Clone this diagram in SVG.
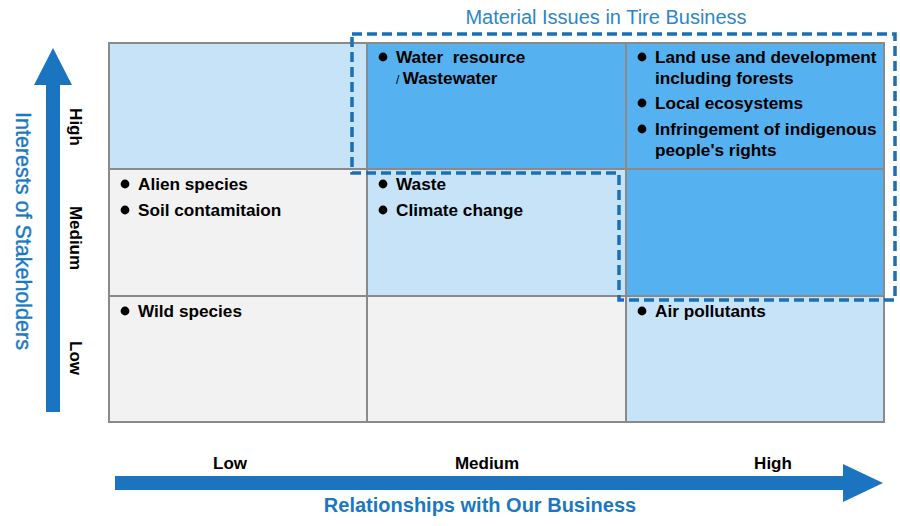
<svg xmlns="http://www.w3.org/2000/svg" width="900" height="526" viewBox="0 0 900 526">
<style>
.lb{fill:#c6e3f8}.bl{fill:#55b1ef}.gr{fill:#f2f2f2}
.grid{fill:none;stroke:#8a8a8a;stroke-width:2}
.t{font-family:"Liberation Sans",Arial,sans-serif;font-weight:bold;font-size:17.2px;fill:#000;white-space:pre}
.ax{font-family:"Liberation Sans",Arial,sans-serif;font-weight:bold;font-size:17px;fill:#000}
.blue{fill:#1a78c2}
.dot{fill:#000}
</style>
<defs><circle id="b" r="4.4"/></defs>
<rect width="900" height="526" fill="#fff"/>
<g id="cells">
<rect class="lb" x="109" y="43" width="258" height="126"/>
<rect class="bl" x="367" y="43" width="259" height="126"/>
<rect class="bl" x="626" y="43" width="258" height="126"/>
<rect class="gr" x="109" y="169" width="258" height="127"/>
<rect class="lb" x="367" y="169" width="259" height="127"/>
<rect class="bl" x="626" y="169" width="258" height="127"/>
<rect class="gr" x="109" y="296" width="258" height="126"/>
<rect class="gr" x="367" y="296" width="259" height="126"/>
<rect class="lb" x="626" y="296" width="258" height="126"/>
<path class="grid" d="M109 43H884V422H109Z M367 43V422 M626 43V422 M109 169H884 M109 296H884"/>
</g>
<g id="cell-texts">
<g class="dot">
<use href="#b" x="383" y="57"/>
<use href="#b" x="642" y="57"/>
<use href="#b" x="642" y="103"/>
<use href="#b" x="642" y="129"/>
<use href="#b" x="125" y="184"/>
<use href="#b" x="125" y="210"/>
<use href="#b" x="383" y="184"/>
<use href="#b" x="383" y="210"/>
<use href="#b" x="125" y="311"/>
<use href="#b" x="642" y="311"/>
</g>
<text class="t" x="396" y="63">Water  resource</text>
<text class="t" x="396" y="84"><tspan font-size="12" font-weight="normal">/ </tspan>Wastewater</text>
<text class="t" x="655" y="63">Land use and development</text>
<text class="t" x="655" y="84">including forests</text>
<text class="t" x="655" y="109">Local ecosystems</text>
<text class="t" x="655" y="135">Infringement of indigenous</text>
<text class="t" x="655" y="156">people's rights</text>
<text class="t" x="138" y="190">Alien species</text>
<text class="t" x="138" y="216">Soil contamitaion</text>
<text class="t" x="396" y="190">Waste</text>
<text class="t" x="396" y="216">Climate change</text>
<text class="t" x="138" y="317">Wild species</text>
<text class="t" x="655" y="317">Air pollutants</text>
</g>
<g id="material-issues">
<path d="M352 34H895V300H619V173H352Z" fill="none" stroke="#1a6fb8" stroke-width="3.5" stroke-dasharray="10 5"/>
<text x="606" y="24" text-anchor="middle" font-family="'Liberation Sans',Arial,sans-serif" font-size="20" fill="#2d86c8">Material Issues in Tire Business</text>
</g>
<g id="y-axis">
<path d="M46 412V85H34L53 48L72 85H60V412Z" fill="#1b74bf"/>
<text transform="translate(16 231) rotate(90)" text-anchor="middle" font-family="'Liberation Sans',Arial,sans-serif" font-size="21.5" class="blue" stroke="#1a78c2" stroke-width="0.4">Interests of Stakeholders</text>
<text class="ax" transform="translate(70 127) rotate(90)" text-anchor="middle">High</text>
<text class="ax" transform="translate(70 238) rotate(90)" text-anchor="middle">Medium</text>
<text class="ax" transform="translate(70 358) rotate(90)" text-anchor="middle">Low</text>
</g>
<g id="x-axis">
<path d="M115 476H843V464L883 483L843 502V490H115Z" fill="#1b74bf"/>
<text class="ax" x="230" y="469" text-anchor="middle">Low</text>
<text class="ax" x="487" y="469" text-anchor="middle">Medium</text>
<text class="ax" x="773" y="469" text-anchor="middle">High</text>
<text x="480" y="512" text-anchor="middle" font-family="'Liberation Sans',Arial,sans-serif" font-weight="bold" font-size="20" class="blue">Relationships with Our Business</text>
</g>
</svg>
